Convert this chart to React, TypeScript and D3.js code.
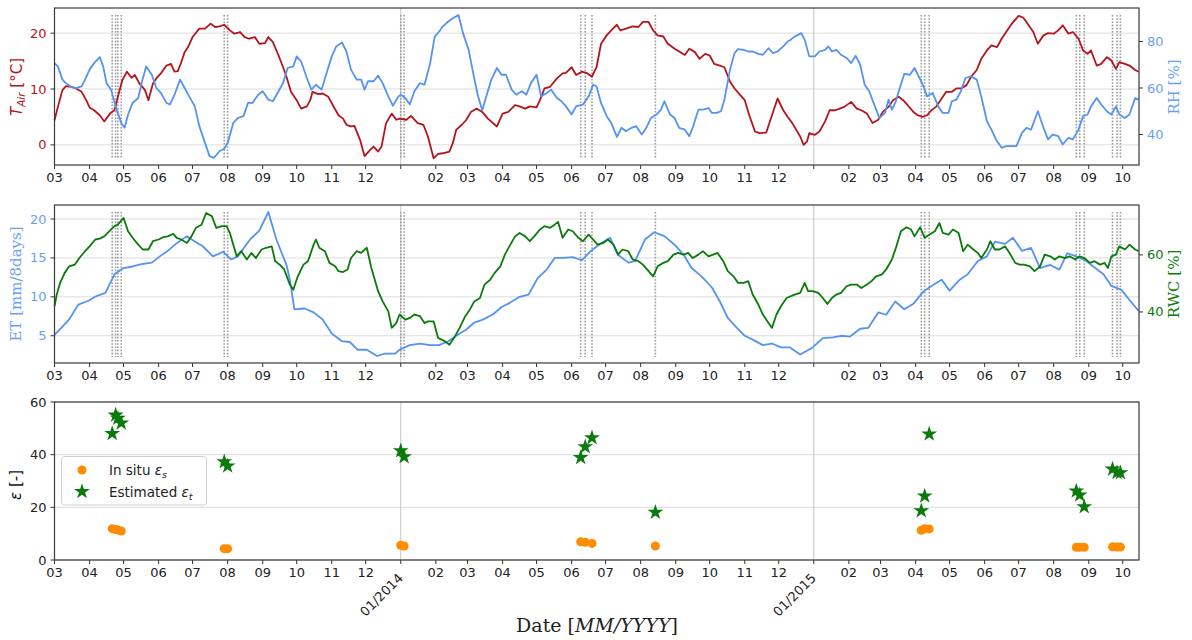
import { useEffect, useRef } from "react";
import * as d3 from "d3";

// all series: [days since 2013-03-01, value]
const START = Date.UTC(2013, 2, 1);
const LAST_DAY = 958.4;

const tAir: [number, number][] = [
  [0,4.4],[3,6.8],[7,9.8],[10,10.5],[15,10.4],[19,10.1],[24,9.5],[28,8.0],[31,6.7],[35,6.2],[40,5.3],[44,4.2],[49,5.6],[53,6.2],[56,8.6],[60,11.6],[64,13.1],[68,12.0],[71,12.5],[75,11.0],[80,9.8],[83,8.0],[87,11.0],[90,11.9],[94,12.8],[99,14.2],[103,14.5],[106,13.1],[109,13.2],[112,14.8],[115,16.6],[118,17.5],[122,19.3],[128,20.8],[133,20.8],[138,21.7],[142,21.1],[146,21.2],[150,21.5],[155,20.5],[159,19.9],[164,20.2],[168,19.3],[172,19.0],[177,19.3],[181,18.1],[186,18.2],[189,19.3],[193,18.4],[198,16.0],[202,13.9],[205,12.2],[209,9.5],[214,8.0],[218,6.5],[223,6.9],[226,8.0],[228,9.5],[233,9.1],[237,9.2],[242,8.6],[246,7.1],[251,5.3],[255,4.7],[258,3.6],[262,3.3],[265,3.4],[270,0.9],[274,-2.0],[279,-0.9],[282,-0.3],[286,-1.2],[289,-0.3],[293,3.9],[298,5.6],[302,4.5],
  [305,4.7],[311,4.5],[315,5.2],[321,3.9],[326,3.6],[330,1.5],[335,-2.4],[339,-1.6],[343,-1.5],[349,-1.2],[352,0.3],[355,2.7],[360,3.6],[364,4.5],[368,5.9],[373,6.5],[378,5.9],[383,4.7],[391,3.3],[396,5.6],[401,5.9],[407,7.1],[411,6.9],[416,6.5],[420,6.9],[426,6.7],[429,8.0],[433,10.1],[438,10.4],[444,11.9],[449,12.8],[452,12.9],[457,13.9],[461,12.5],[466,13.1],[470,12.9],[475,12.2],[479,13.9],[483,18.1],[488,19.6],[492,20.5],[497,21.5],[500,20.5],[505,20.8],[511,21.2],[516,21.1],[520,22.0],[525,22.0],[529,20.5],[533,19.6],[538,19.4],[542,18.1],[548,17.2],[553,16.6],[557,16.1],[561,17.2],[566,16.6],[570,15.4],[575,16.3],[579,16.0],[583,14.5],[588,14.2],[592,13.9],[597,11.3],[601,10.1],[606,8.9],[610,8.0],[614,5.3],[619,2.4],[623,2.1],[629,2.2],[635,5.9],[639,8.3],[644,6.2],[648,5.0],
  [652,3.9],[659,1.5],[662,0],[665,0.6],[667,2.1],[672,1.8],[676,2.4],[681,4.2],[685,6.2],[690,6.2],[694,6.5],[698,6.8],[704,7.7],[709,6.5],[713,6.2],[718,5.6],[723,3.9],[728,4.5],[732,5.9],[737,6.8],[741,8.0],[746,8.6],[750,8.0],[754,7.1],[759,5.9],[763,5.3],[767,5.0],[771,5.3],[775,6.2],[779,6.8],[784,8.3],[788,9.5],[793,9.5],[797,10.1],[801,10.1],[806,10.7],[810,12.2],[815,13.4],[819,15.4],[824,16.9],[828,17.8],[833,17.5],[837,19.0],[841,20.2],[846,21.7],[852,23.1],[856,22.8],[860,21.7],[865,20.2],[869,18.1],[874,19.6],[878,20.0],[883,19.9],[887,20.5],[891,21.4],[896,19.9],[900,20.2],[905,19.0],[909,16.9],[913,16.3],[916,16.9],[921,14.2],[925,14.5],[930,15.7],[934,15.1],[938,13.6],[941,14.8],[946,14.5],[950,14.2],[955,13.4],[958,13.1],
];

const rh: [number, number][] = [
  [0,70.7],[3,69.3],[7,63.6],[10,62.1],[15,60.4],[19,60],[24,60.7],[27,63.6],[31,67.9],[35,70.7],[40,73.3],[43,69.3],[46,62.1],[50,59.3],[54,52.1],[59,45],[62,42.9],[65,48.6],[69,53.6],[74,55.7],[77,62.1],[81,69.3],[86,65.7],[90,60],[94,57.9],[99,53.6],[102,52.9],[106,57.1],[111,63.6],[115,60],[119,56.4],[124,52.1],[128,43.6],[133,36.4],[137,30.7],[141,30],[146,32.9],[150,33.9],[153,36.4],[158,45],[162,47.1],[167,47.9],[171,53.6],[175,53.6],[180,57.1],[184,58.6],[189,55.0],[193,54.3],[198,58.6],[202,62.1],[206,68.6],[211,69.3],[214,73.6],[218,71.4],[223,64.3],[227,59.3],[231,61.4],[236,59.3],[240,65.7],[245,73.6],[249,77.9],[254,79.6],[258,75.7],[262,67.9],[267,63.6],[271,63.6],[274,59.3],[277,62.9],[282,62.9],[286,65.3],[290,62.1],[295,56.4],[299,52.4],[304,56.4],
  [306,57.1],[310,55.7],[314,52.9],[318,58.6],[323,62.1],[327,61.4],[332,70.7],[336,82.1],[340,84.3],[343,86.4],[348,88.6],[352,90],[357,91.4],[361,83.6],[366,76.4],[370,66.4],[374,57.1],[378,50.3],[382,57.1],[386,63.6],[391,68.6],[395,65.7],[399,65.7],[404,59.3],[408,57.1],[413,58.6],[417,57.1],[421,62.1],[426,65.7],[430,56.4],[435,57.9],[439,59.3],[444,55.7],[448,54.3],[452,52.1],[457,48.6],[461,52.1],[467,52.9],[472,56.4],[476,61.4],[479,60.7],[483,53.6],[488,47.9],[492,45.0],[497,39.0],[501,42.9],[505,41.4],[510,42.9],[514,43.6],[519,40],[523,42.9],[527,47.1],[532,48.6],[536,50.7],[539,54.3],[544,48.6],[548,47.1],[552,42.9],[557,42.1],[561,39.3],[564,42.9],[569,50.7],[573,50.7],[578,51.4],[581,49.3],[585,49.3],[589,50.0],[592,55.0],[597,67.9],[601,75],[604,76.7],[609,76.4],[613,75.7],[617,75.7],[622,74.7],[626,74.3],[631,77.1],[635,75],[639,75.7],[644,77.9],[648,80],
  [651,80.9],[654,82.1],[660,83.6],[663,80.7],[667,73.6],[672,73.6],[676,75.7],[681,76.4],[684,77.9],[687,75.7],[691,76.4],[695,74.3],[700,72.9],[704,70.7],[708,73.9],[712,70],[716,61.4],[720,58.6],[725,52.1],[729,47.1],[734,49.3],[737,55],[740,50.7],[743,53.6],[747,60],[751,66.1],[756,65.7],[760,68.6],[763,65.7],[768,60.7],[771,56.4],[776,57.9],[781,52.1],[785,49.3],[790,49.3],[793,54.3],[797,55],[801,58.6],[805,64.3],[810,65],[815,63.6],[819,56.4],[824,45.7],[828,42.1],[832,37.9],[837,34.3],[841,35],[846,35],[850,35],[855,40.7],[859,42.9],[863,42.1],[869,50],[874,42.9],[878,37.9],[882,40],[887,39.3],[891,35.7],[896,38.6],[900,37.9],[905,42.1],[909,47.9],[913,48.6],[916,52.1],[921,55.7],[925,52.9],[930,50],[934,48.6],[938,52.1],[941,48.6],[946,47.1],[950,48.6],[955,55.7],[958,55],
];

const et: [number, number][] = [
  [0,5.1],[6,6.0],[13,7.1],[21,9.0],[30,9.5],[37,10.1],[45,10.5],[53,12.9],[61,13.7],[69,13.9],[77,14.2],[86,14.4],[93,15.2],[100,15.9],[108,16.9],[117,17.8],[124,17.1],[131,16.5],[140,15.2],[149,15.8],[156,14.8],[162,15.2],[173,17.4],[181,18.5],[189,20.9],[196,17.4],[205,14.1],[208,12.2],[212,8.4],[221,8.5],[229,8.0],[237,7.1],[245,5.3],[254,4.3],[261,4.2],[268,3.2],[276,3.2],[285,2.4],[292,2.7],[301,2.7],
  [305,3.2],[314,3.8],[323,4.0],[332,3.8],[340,3.8],[348,4.3],[357,5.2],[364,5.8],[371,6.7],[379,7.1],[388,7.8],[395,8.7],[402,9.2],[411,10.0],[419,10.3],[427,12.4],[435,13.5],[442,15.0],[449,15.0],[458,15.1],[466,14.7],[474,15.9],[482,16.8],[491,17.6],[498,15.4],[507,14.4],[513,14.6],[522,17.4],[530,18.3],[539,17.8],[548,16.7],[556,15.4],[563,13.7],[572,12.6],[581,11.2],[588,9.4],[595,7.3],[603,6.0],[610,5.0],[617,4.5],[626,3.8],[634,4.0],[642,3.5],
  [650,3.5],[659,2.6],[670,3.5],[679,4.7],[688,4.8],[695,5.0],[703,4.9],[712,5.9],[719,6.0],[728,8.0],[735,7.7],[743,9.4],[751,8.4],[759,9.1],[768,10.7],[775,11.4],[784,12.2],[791,10.8],[800,12.2],[807,12.9],[816,14.6],[824,15.2],[831,17.1],[840,16.8],[847,17.6],[855,15.9],[863,16.3],[871,13.7],[880,14.1],[888,13.5],[895,15.6],[903,15.2],[912,14.6],[918,13.9],[927,12.9],[934,11.4],[943,10.9],[950,9.6],[958,8.2],
];

const rwc: [number, number][] = [
  [0,42],[2,46.1],[5,50.2],[9,53.7],[13,56],[18,56.6],[22,58.9],[27,61.3],[31,63],[36,65.4],[40,65.7],[44,66.5],[49,68.5],[53,70.1],[56,70.6],[61,73],[65,68.3],[69,66],[74,63.6],[78,61.9],[83,61.9],[87,64.8],[92,65.4],[96,66.2],[100,66.5],[105,67.4],[108,66],[112,65.4],[117,64.2],[121,66.5],[125,69.5],[130,70.6],[134,74.7],[139,73.6],[143,69.5],[148,70.1],[152,70.1],[155,67.7],[158,63.6],[161,59.5],[165,61.3],[170,58.4],[174,60.7],[178,58.9],[183,61.9],[187,62.5],[192,63],[195,57.8],[199,56.6],[203,54.9],[208,49.6],[211,47.8],[215,52.5],[220,56.6],[224,57.8],[229,63.6],[231,65.4],[234,62.5],[239,61.3],[243,57.2],[248,56],[251,54.3],[255,54],[259,54.9],[262,58.9],[267,61.3],[271,60.7],[276,62.5],[280,55.4],[286,47.3],[290,43.7],[295,40.2],[298,34.4],[302,36.1],
  [305,39.1],[310,37.3],[314,37.9],[318,39.1],[323,38.5],[327,36.1],[330,36.7],[335,36.7],[339,30.9],[345,29.7],[349,28.5],[354,31.5],[358,34.4],[363,38.5],[367,40.8],[371,43.7],[376,44.9],[380,49.6],[385,51.3],[389,53.7],[394,56],[398,60.1],[402,63],[407,66.5],[411,67.7],[416,66.5],[420,64.8],[424,66.5],[429,68.9],[433,70.1],[438,69.5],[442,70.6],[445,71.6],[449,66],[454,68.9],[458,68.3],[463,66],[467,64.8],[472,67.1],[476,65.4],[480,63.6],[485,64.2],[489,65.4],[494,63.6],[498,60.1],[502,61.9],[507,61.3],[511,58.4],[516,57.8],[520,56.6],[525,54.3],[529,52.5],[533,56],[538,57.2],[542,57.8],[547,60.1],[551,60.7],[556,60.1],[560,60.7],[564,58.9],[569,60.1],[573,61.3],[578,59.5],[582,60.1],[586,60.7],[591,57.8],[595,54.3],[600,52.5],[604,50.2],[609,50.2],[613,50.8],[617,46.1],[622,42.6],[626,39.1],[631,36.1],[634,34.4],[638,39.1],[642,42],[647,44.9],
  [654,46.1],[659,46.7],[663,50.2],[666,47.3],[670,47.3],[675,46.7],[679,44.9],[683,42.8],[687,44.9],[691,46.1],[695,46.7],[700,49],[704,49.6],[709,49.6],[713,48.4],[718,49.6],[722,50.8],[726,52.5],[731,53.1],[735,54.9],[740,58.4],[744,63],[748,68.3],[753,69.7],[757,68.9],[760,66.5],[765,69.7],[769,66],[773,67.1],[778,68.3],[782,71.2],[785,67.7],[790,67.1],[794,68.9],[799,67.7],[803,61.3],[807,63.6],[812,61.9],[816,60.7],[819,58.9],[824,61.9],[827,64.8],[831,61.9],[835,61.9],[840,63],[844,60.7],[849,57.2],[853,56.6],[857,56.6],[862,56],[866,54.3],[871,56],[875,60.1],[880,59.5],[884,58.4],[888,59.5],[893,58.9],[897,59.5],[902,58.4],[906,59.5],[910,58.9],[915,57.2],[919,57.8],[924,56.6],[928,57.2],[931,55.4],[934,59.5],[938,60.1],[941,63],[946,61.9],[950,63.6],[955,61.9],[958,61.3],
];

// sampling campaigns (days since 2013-03-01) and the epsilon values
const sampleDays = [51, 54, 56, 59, 150, 153, 306, 309, 465, 469, 475, 531, 766, 769, 773, 903, 906, 910, 935, 939, 942];
const epsInSitu = [11.9, 11.6, 11.4, 11.0, 4.3, 4.3, 5.6, 5.3, 6.9, 6.7, 6.3, 5.3, 11.3, 11.9, 11.8, 4.8, 4.8, 4.8, 5.0, 4.9, 4.9];
const epsEstimated = [48, 55, 53.8, 52, 37.3, 35.7, 41.5, 39.2, 38.9, 43, 46.4, 18.1, 18.7, 24.3, 47.8, 26.2, 24.7, 20.2, 34.5, 33.2, 33.1];

const tTicks = [0, 10, 20];
const rhTicks = [40, 60, 80];
const etTicks = [5, 10, 15, 20];
const rwcTicks = [40, 60];
const epsTicks = [0, 20, 40, 60];

const RED = "#b5141c";
const BLUE = "#5592f2";
const BLUE_TXT = "#6a9ff5";
const GREEN = "#0a7a0a";
const ORANGE = "#ff8c00";
const SANS = "DejaVu Sans, sans-serif";
const SERIF = "DejaVu Serif, serif";

const toDate = (day: number) => new Date(START + day * 864e5);

export default function App() {
  const ref = useRef<SVGSVGElement>(null);

  useEffect(() => {
    const svg = d3.select(ref.current);
    svg.selectAll("*").remove();

    const left = 54.5, right = 1139;
    const x = d3.scaleUtc().domain([toDate(0), toDate(LAST_DAY)]).range([left, right]);
    const months = d3.utcMonth.range(toDate(0), toDate(LAST_DAY));
    const years = months.filter(d => d.getUTCMonth() === 0);

    const panel = (top: number, bottom: number, y: any, ticks: number[], tickColor: string, rotatedYear: boolean) => {
      const g = svg.append("g");
      // grid
      g.selectAll(".hg").data(ticks).enter().append("line")
        .attr("x1", left).attr("x2", right)
        .attr("y1", d => y(d)).attr("y2", d => y(d))
        .attr("stroke", "#dcdcdc").attr("stroke-width", 1);
      g.selectAll(".vg").data(years).enter().append("line")
        .attr("x1", d => x(d)).attr("x2", d => x(d))
        .attr("y1", top).attr("y2", bottom)
        .attr("stroke", "#c4c4c4").attr("stroke-width", 1);

      // bottom ticks
      g.selectAll(".xt").data(months).enter().append("line")
        .attr("x1", d => x(d)).attr("x2", d => x(d))
        .attr("y1", bottom).attr("y2", bottom + 4)
        .attr("stroke", "#333").attr("stroke-width", 1);
      g.selectAll(".xl").data(months.filter(d => d.getUTCMonth() !== 0)).enter().append("text")
        .attr("x", d => x(d)).attr("y", bottom + 17)
        .attr("text-anchor", "middle")
        .attr("font-family", SANS).attr("font-size", 13).attr("fill", "#222")
        .text(d => d3.utcFormat("%m")(d));
      if (rotatedYear) {
        g.selectAll(".yl").data(years).enter().append("text")
          .attr("transform", d => `translate(${x(d) + 3},${bottom + 19}) rotate(-45)`)
          .attr("text-anchor", "end")
          .attr("font-family", SANS).attr("font-size", 13).attr("fill", "#222")
          .text(d => d3.utcFormat("%m/%Y")(d));
      }

      // left ticks
      g.selectAll(".lt").data(ticks).enter().append("line")
        .attr("x1", left - 4).attr("x2", left)
        .attr("y1", d => y(d)).attr("y2", d => y(d))
        .attr("stroke", "#333");
      g.selectAll(".ll").data(ticks).enter().append("text")
        .attr("x", left - 8).attr("y", d => y(d) + 4.5)
        .attr("text-anchor", "end")
        .attr("font-family", SANS).attr("font-size", 13).attr("fill", tickColor)
        .text(d => d);
      return g;
    };

    const rightAxis = (g: any, y: any, ticks: number[], color: string) => {
      g.selectAll(".rt").data(ticks).enter().append("line")
        .attr("x1", right).attr("x2", right + 4)
        .attr("y1", (d: number) => y(d)).attr("y2", (d: number) => y(d))
        .attr("stroke", "#333");
      g.selectAll(".rl").data(ticks).enter().append("text")
        .attr("x", right + 8).attr("y", (d: number) => y(d) + 4.5)
        .attr("font-family", SANS).attr("font-size", 13).attr("fill", color)
        .text((d: number) => d);
    };

    const frame = (g: any, top: number, bottom: number) => {
      g.append("rect")
        .attr("x", left).attr("y", top)
        .attr("width", right - left).attr("height", bottom - top)
        .attr("fill", "none").attr("stroke", "#3a3a3a").attr("stroke-width", 1.2);
    };

    const campaignLines = (g: any, top: number, bottom: number) => {
      g.selectAll(".cl").data(sampleDays).enter().append("line")
        .attr("x1", (d: number) => x(toDate(d))).attr("x2", (d: number) => x(toDate(d)))
        .attr("y1", top + 7).attr("y2", bottom - 6)
        .attr("stroke", "#9c9c9c").attr("stroke-width", 1.6)
        .attr("stroke-dasharray", "1.6,1.6");
    };

    const drawLine = (g: any, data: [number, number][], y: any, color: string) => {
      g.append("path")
        .datum(data)
        .attr("fill", "none")
        .attr("stroke", color)
        .attr("stroke-width", 1.8)
        .attr("stroke-linejoin", "round")
        .attr("d", d3.line<[number, number]>()
          .x(d => x(toDate(d[0])))
          .y(d => y(d[1])));
    };

    // ---------- panel 1: air temperature & RH
    const yT = d3.scaleLinear().domain([-3.6, 24.5]).range([165, 8]);
    const yRH = d3.scaleLinear().domain([26.9, 94.4]).range([165, 8]);
    const g1 = panel(8, 165, yT, tTicks, RED, false);
    campaignLines(g1, 8, 165);
    drawLine(g1, tAir, yT, RED);
    drawLine(g1, rh, yRH, BLUE);
    frame(g1, 8, 165);
    rightAxis(g1, yRH, rhTicks, BLUE_TXT);

    const tl = g1.append("text")
      .attr("transform", "translate(22,87) rotate(-90)")
      .attr("text-anchor", "middle")
      .attr("font-family", SANS).attr("font-size", 15).attr("fill", RED);
    tl.append("tspan").attr("font-style", "italic").text("T");
    tl.append("tspan").attr("font-style", "italic").attr("font-size", 10.5).attr("dy", 3).text("Air");
    tl.append("tspan").attr("dy", -3).text(" [°C]");

    g1.append("text")
      .attr("transform", "translate(1179,87) rotate(-90)")
      .attr("text-anchor", "middle")
      .attr("font-family", SERIF).attr("font-size", 15).attr("fill", BLUE_TXT)
      .text("RH [%]");

    // ---------- panel 2: ET & RWC
    const yET = d3.scaleLinear().domain([1.5, 21.8]).range([363, 205]);
    const yRWC = d3.scaleLinear().domain([22.1, 77.5]).range([363, 205]);
    const g2 = panel(205, 363, yET, etTicks, BLUE_TXT, false);
    campaignLines(g2, 205, 363);
    drawLine(g2, et, yET, BLUE);
    drawLine(g2, rwc, yRWC, GREEN);
    frame(g2, 205, 363);
    rightAxis(g2, yRWC, rwcTicks, GREEN);

    g2.append("text")
      .attr("transform", "translate(21,284) rotate(-90)")
      .attr("text-anchor", "middle")
      .attr("font-family", SERIF).attr("font-size", 15).attr("fill", BLUE_TXT)
      .text("ET [mm/8days]");
    g2.append("text")
      .attr("transform", "translate(1179,284) rotate(-90)")
      .attr("text-anchor", "middle")
      .attr("font-family", SERIF).attr("font-size", 15).attr("fill", GREEN)
      .text("RWC [%]");

    // ---------- panel 3: epsilon
    const yE = d3.scaleLinear().domain([0, 60]).range([560, 402]);
    const g3 = panel(402, 560, yE, epsTicks, "#222", true);
    g3.selectAll(".ins").data(sampleDays).enter().append("circle")
      .attr("cx", (d: number) => x(toDate(d)))
      .attr("cy", (_: number, i: number) => yE(epsInSitu[i]))
      .attr("r", 4.5)
      .attr("fill", ORANGE);
    const star = d3.symbol(d3.symbolStar, 78);
    g3.selectAll(".est").data(sampleDays).enter().append("path")
      .attr("transform", (d: number, i: number) => `translate(${x(toDate(d))},${yE(epsEstimated[i])})`)
      .attr("d", star())
      .attr("fill", GREEN);
    frame(g3, 402, 560);

    const el = g3.append("text")
      .attr("transform", "translate(21,485) rotate(-90)")
      .attr("text-anchor", "middle")
      .attr("font-family", SANS).attr("font-size", 15).attr("fill", "#111");
    el.append("tspan").attr("font-style", "italic").text("ε");
    el.append("tspan").text(" [-]");

    // legend
    const lg = g3.append("g");
    lg.append("rect")
      .attr("x", 61.5).attr("y", 456.5).attr("width", 145).attr("height", 48.5)
      .attr("rx", 3).attr("fill", "#fff").attr("fill-opacity", 0.8)
      .attr("stroke", "#cfcfcf");
    lg.append("circle").attr("cx", 82).attr("cy", 470).attr("r", 4.5).attr("fill", ORANGE);
    lg.append("path").attr("transform", "translate(82,491.5)").attr("d", star()).attr("fill", GREEN);
    const l1 = lg.append("text").attr("x", 109).attr("y", 475)
      .attr("font-family", SANS).attr("font-size", 13.5).attr("fill", "#222");
    l1.append("tspan").text("In situ ");
    l1.append("tspan").attr("font-style", "italic").text("ε");
    l1.append("tspan").attr("font-style", "italic").attr("font-size", 9.5).attr("dy", 3).text("s");
    const l2 = lg.append("text").attr("x", 109).attr("y", 497)
      .attr("font-family", SANS).attr("font-size", 13.5).attr("fill", "#222");
    l2.append("tspan").text("Estimated ");
    l2.append("tspan").attr("font-style", "italic").text("ε");
    l2.append("tspan").attr("font-style", "italic").attr("font-size", 9.5).attr("dy", 3).text("t");

    // x label
    const xl = svg.append("text")
      .attr("x", 597).attr("y", 632)
      .attr("text-anchor", "middle")
      .attr("font-family", SERIF).attr("font-size", 19).attr("fill", "#222");
    xl.append("tspan").text("Date [");
    xl.append("tspan").attr("font-style", "italic").text("MM/YYYY");
    xl.append("tspan").text("]");
  }, []);

  return (
    <svg
      ref={ref}
      width={1192}
      height={640}
      style={{ position: "absolute", left: 0, top: 0, background: "#fff" }}
    />
  );
}
